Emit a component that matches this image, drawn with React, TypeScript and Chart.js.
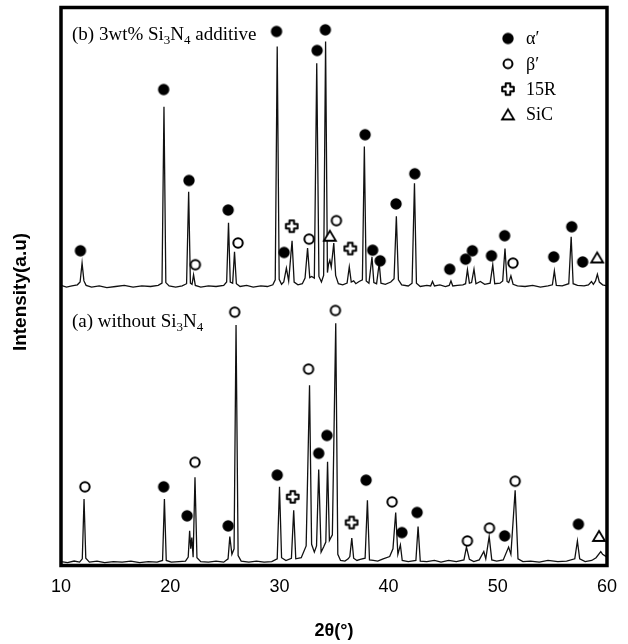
import React, { useEffect, useRef } from "react";
import { Chart, registerables } from "chart.js";

Chart.register(...registerables);

// ---------- data ----------
const X_TICKS = [10, 20, 30, 40, 50, 60];

// (b) 3wt% Si3N4 additive  (offset trace)
const TRACE_B_X = [
  10.0, 10.5, 11.0, 11.5, 11.75, 11.93, 12.1, 12.3, 12.8, 13.5, 14.2, 15.0, 15.8, 16.6, 17.4, 18.2, 18.9,
  19.25, 19.43, 19.6, 19.9, 20.5, 21.1, 21.5, 21.69, 21.85, 22.0, 22.14, 22.3, 22.8, 23.5, 24.2, 24.9,
  25.17, 25.34, 25.5, 25.72, 25.89, 26.06, 26.4, 27.0, 27.6, 28.3, 28.9, 29.4, 29.62, 29.8, 29.98, 30.2,
  30.4, 30.64, 30.85, 31.16, 31.35, 31.7, 32.1, 32.35, 32.58, 32.78, 32.95, 33.2, 33.42, 33.62, 33.85,
  34.05, 34.23, 34.4, 34.5, 34.62, 34.75, 34.98, 35.15, 35.4, 35.8, 36.2, 36.4, 36.58, 36.8, 37.0, 37.3,
  37.6, 37.78, 37.95, 38.2, 38.48, 38.65, 38.9, 39.14, 39.3, 39.7, 40.2, 40.5, 40.71, 40.9, 41.2, 41.8,
  42.15, 42.37, 42.55, 42.9, 43.5, 43.85, 44.02, 44.2, 44.7, 45.2, 45.55, 45.71, 45.88, 46.3, 46.8, 47.05,
  47.22, 47.4, 47.6, 47.82, 48.0, 48.4, 48.8, 49.3, 49.54, 49.72, 50.2, 50.45, 50.66, 50.85, 51.0, 51.2,
  51.4, 51.8, 52.5, 53.2, 53.9, 54.6, 55.0, 55.18, 55.36, 55.9, 56.5, 56.72, 56.9, 57.3, 57.9, 58.3,
  58.58, 58.75, 58.95, 59.12, 59.3, 59.6, 60.0,
];
const TRACE_B_Y = [
  50.2, 49.9, 50.1, 50.3, 50.8, 54.2, 51.0, 50.2, 49.9, 50.1, 49.8, 50.0, 50.2, 49.9, 50.1, 50.0, 50.2,
  50.6, 82.2, 50.7, 50.1, 49.9, 50.1, 50.5, 67.0, 50.6, 50.4, 52.1, 50.2, 49.9, 50.1, 50.0, 50.2,
  50.8, 61.4, 50.8, 50.6, 56.2, 50.5, 50.0, 50.2, 49.9, 50.1, 50.0, 50.3, 51.2, 93.0, 51.3, 50.4,
  50.8, 53.3, 51.0, 58.2, 50.8, 50.3, 50.5, 51.5, 56.9, 51.6, 51.8, 51.5, 90.0, 51.8, 50.8,
  52.0, 93.9, 52.5, 54.0, 54.7, 53.5, 57.8, 52.0, 50.5, 50.3, 50.6, 53.5, 50.8, 51.0, 50.5, 50.9,
  51.2, 75.1, 51.0, 50.6, 55.3, 50.7, 50.5, 54.2, 50.6, 50.4, 50.8, 51.4, 62.6, 51.2, 50.3, 50.1,
  50.6, 68.5, 50.6, 50.0, 50.2, 50.1, 50.9, 50.1, 50.3, 50.0, 50.2, 51.0, 50.1, 50.2, 50.3, 50.5,
  53.0, 50.6, 50.7, 53.1, 50.5, 50.9, 50.4, 50.6, 53.9, 50.5, 50.6, 51.0, 56.8, 50.9, 50.7, 51.9,
  50.4, 50.1, 50.0, 50.2, 49.9, 50.1, 50.3, 52.8, 50.2, 50.1, 50.5, 58.9, 50.5, 50.2, 50.1, 50.3,
  50.9, 50.4, 51.0, 52.2, 50.8, 50.3, 50.1,
];

// (a) without Si3N4
const TRACE_A_X = [
  10.0, 10.6, 11.2, 11.7, 11.95, 12.11, 12.27, 12.6, 13.3, 14.0, 14.8, 15.6, 16.4, 17.2, 18.0, 18.8, 19.3,
  19.47, 19.64, 20.1, 20.8, 21.4, 21.65, 21.78, 21.88, 21.98, 22.1, 22.27, 22.45, 22.8, 23.5, 24.2, 24.9,
  25.3, 25.46, 25.65, 25.85, 26.03, 26.22, 26.5, 27.2, 27.9, 28.6, 29.3, 29.8, 30.01, 30.2, 30.6, 31.1,
  31.31, 31.5, 32.0, 32.45, 32.76, 32.95, 33.2, 33.4, 33.6, 33.82, 34.05, 34.25, 34.41, 34.58, 34.85,
  35.16, 35.35, 35.6, 36.0, 36.3, 36.45, 36.63, 36.8, 37.1, 37.4, 37.85, 38.06, 38.25, 38.6, 39.0, 39.5,
  40.1, 40.4, 40.65, 40.85, 41.08, 41.25, 41.8, 42.5, 42.7, 42.9, 43.5, 44.2, 44.8, 45.5, 46.2, 46.9,
  47.13, 47.4, 47.8, 48.3, 48.72, 48.9, 49.21, 49.45, 49.9, 50.5, 50.99, 51.2, 51.59, 51.85, 52.3, 53.0,
  53.8, 54.6, 55.5, 56.3, 57.05, 57.29, 57.5, 58.0, 58.6, 59.0, 59.43, 59.6, 60.0,
];
const TRACE_A_Y = [
  0.7, 0.5, 0.8, 0.6, 1.2, 11.9, 1.3, 0.6, 0.8, 0.5, 0.7, 0.6, 0.8, 0.5, 0.7, 0.6, 0.9,
  11.9, 0.9, 0.6, 0.7, 0.8, 1.5, 6.2, 3.0, 5.0, 1.5, 15.8, 1.4, 0.7, 0.6, 0.8, 0.6,
  1.2, 5.2, 2.0, 3.0, 43.1, 1.8, 0.8, 0.6, 0.8, 0.6, 0.7, 1.2, 14.1, 1.4, 0.9, 1.3,
  9.9, 1.2, 1.4, 3.5, 32.3, 3.8, 2.4, 3.5, 17.2, 2.4, 3.3, 4.2, 18.6, 4.5, 5.5,
  43.4, 2.0, 0.9, 0.8, 1.2, 1.6, 4.9, 1.3, 0.9, 1.1, 1.3, 11.7, 1.0, 0.9, 0.8, 1.2,
  1.6, 3.0, 9.5, 2.0, 3.7, 0.9, 0.7, 0.9, 7.0, 0.8, 0.7, 0.9, 0.6, 0.9, 0.7, 1.0,
  3.3, 1.1, 0.7, 1.0, 2.5, 1.2, 5.2, 1.0, 0.8, 1.0, 3.3, 2.0, 13.5, 1.2, 0.7, 0.8,
  0.6, 0.9, 0.7, 0.8, 1.2, 4.4, 1.2, 0.7, 0.9, 1.4, 2.5, 2.0, 1.5,
];

// phase markers (both traces)
const ALPHA_X = [11.78, 19.4, 21.72, 25.31, 29.74, 30.43, 33.45, 34.21, 37.85, 38.54, 39.23, 40.68, 42.4, 45.6, 47.05, 47.67, 49.42, 50.63, 55.12, 56.77, 57.77,
  19.4, 21.55, 25.31, 29.8, 33.6, 34.35, 37.94, 41.22, 42.61, 50.63, 57.38];
const ALPHA_Y = [56.4, 85.3, 69.0, 63.7, 95.7, 56.1, 92.3, 96.0, 77.2, 56.5, 54.6, 64.8, 70.2, 53.1, 54.9, 56.4, 55.5, 59.1, 55.3, 60.7, 54.4,
  14.1, 8.9, 7.1, 16.2, 20.1, 23.3, 15.3, 5.9, 9.5, 5.3, 7.4];
const BETA_X = [22.3, 26.21, 32.72, 35.22, 51.39,
  12.19, 22.27, 25.91, 32.67, 35.13, 40.32, 47.22, 49.24, 51.59];
const BETA_Y = [53.9, 57.8, 58.5, 61.8, 54.2,
  14.1, 18.5, 45.4, 35.2, 45.7, 11.4, 4.4, 6.7, 15.1];
const R15_X = [31.13, 36.49, 31.22, 36.61];
const R15_Y = [60.8, 56.8, 12.3, 7.7];
const SIC_X = [34.62, 59.1, 59.27];
const SIC_Y = [59.1, 55.2, 5.3];

const LEGEND_LABELS = ["α′", "β′", "15R", "SiC"];

// ---------- marker glyphs ----------
type Kind = "alpha" | "beta" | "r15" | "sic";

function makeMarker(kind: Kind, scale = 1): HTMLCanvasElement {
  const size = 18;
  const c = document.createElement("canvas");
  c.width = size;
  c.height = size;
  const g = c.getContext("2d")!;
  const m = size / 2;
  g.strokeStyle = "#000";
  g.fillStyle = "#000";
  if (kind === "alpha") {
    g.beginPath();
    g.arc(m, m, 5.7 * scale, 0, Math.PI * 2);
    g.fill();
  } else if (kind === "beta") {
    g.beginPath();
    g.arc(m, m, 4.7 * scale, 0, Math.PI * 2);
    g.fillStyle = "#fff";
    g.fill();
    g.lineWidth = 2;
    g.stroke();
  } else if (kind === "r15") {
    const a = 2.3 * scale;
    const L = 5.8 * scale;
    const pts = [
      [m - a, m - L], [m + a, m - L], [m + a, m - a], [m + L, m - a], [m + L, m + a], [m + a, m + a],
      [m + a, m + L], [m - a, m + L], [m - a, m + a], [m - L, m + a], [m - L, m - a], [m - a, m - a],
    ];
    g.beginPath();
    pts.forEach(([px, py], i) => (i === 0 ? g.moveTo(px, py) : g.lineTo(px, py)));
    g.closePath();
    g.fillStyle = "#fff";
    g.fill();
    g.lineWidth = 2;
    g.lineJoin = "round";
    g.stroke();
  } else {
    const w = 6 * scale;
    const h = 5 * scale;
    g.beginPath();
    g.moveTo(m, m - h);
    g.lineTo(m + w, m + h);
    g.lineTo(m - w, m + h);
    g.closePath();
    g.fillStyle = "#fff";
    g.fill();
    g.lineWidth = 1.8;
    g.stroke();
  }
  return c;
}

const SERIF = "'Liberation Serif', 'Times New Roman', serif";
const SANS = "'Liberation Sans', Arial, sans-serif";

function drawRich(ctx: CanvasRenderingContext2D, x: number, y: number, parts: [string, boolean][]) {
  let cx = x;
  for (const [t, sub] of parts) {
    ctx.font = sub ? `13px ${SERIF}` : `19px ${SERIF}`;
    ctx.fillText(t, cx, sub ? y + 4 : y);
    cx += ctx.measureText(t).width;
  }
}

const framePlugin = {
  id: "frameAndText",
  afterDraw(chart: any) {
    const { ctx, chartArea } = chart;
    const { left, right, top, bottom } = chartArea;
    ctx.save();
    ctx.strokeStyle = "#000";
    ctx.lineWidth = 3.5;
    ctx.strokeRect(left, top, right - left, bottom - top);

    ctx.fillStyle = "#000";
    ctx.textBaseline = "alphabetic";
    ctx.textAlign = "left";
    drawRich(ctx, left + 11, top + 32, [["(b) 3wt% Si", false], ["3", true], ["N", false], ["4", true], [" additive", false]]);
    drawRich(ctx, left + 11, top + 319, [["(a) without Si", false], ["3", true], ["N", false], ["4", true]]);

    // legend
    const kinds: Kind[] = ["alpha", "beta", "r15", "sic"];
    const lx = right - 99;
    kinds.forEach((k, i) => {
      const ly = top + 31 + i * 25.3;
      const img = makeMarker(k, k === "beta" ? 0.95 : 1);
      ctx.drawImage(img, lx - 9, ly - 9);
      ctx.font = `18px ${SERIF}`;
      ctx.textBaseline = "middle";
      ctx.fillText(LEGEND_LABELS[i], lx + 18, ly + 1);
    });

    // y axis title
    ctx.save();
    ctx.translate(21, 292);
    ctx.rotate(-Math.PI / 2);
    ctx.textAlign = "center";
    ctx.textBaseline = "middle";
    ctx.font = `bold 19px ${SANS}`;
    ctx.fillText("Intensity(a.u)", 0, 0);
    ctx.restore();
    ctx.restore();
  },
};

function toPoints(xs: number[], ys: number[]) {
  return xs.map((x, i) => ({ x, y: ys[i] }));
}

export default function App() {
  const ref = useRef<HTMLCanvasElement | null>(null);

  useEffect(() => {
    if (!ref.current) return;
    const markerDs = (xs: number[], ys: number[], kind: Kind, label: string) => ({
      label,
      data: toPoints(xs, ys),
      showLine: false,
      pointStyle: makeMarker(kind),
      pointRadius: 6,
      pointHoverRadius: 6,
      order: 0,
    });
    const lineDs = (xs: number[], ys: number[], label: string) => ({
      label,
      data: toPoints(xs, ys),
      showLine: true,
      borderColor: "#111",
      borderWidth: 1.3,
      pointRadius: 0,
      tension: 0,
      order: 1,
    });
    const chart = new Chart(ref.current, {
      type: "scatter",
      data: {
        datasets: [
          markerDs(ALPHA_X, ALPHA_Y, "alpha", "α′"),
          markerDs(BETA_X, BETA_Y, "beta", "β′"),
          markerDs(R15_X, R15_Y, "r15", "15R"),
          markerDs(SIC_X, SIC_Y, "sic", "SiC"),
          lineDs(TRACE_B_X, TRACE_B_Y, "(b)"),
          lineDs(TRACE_A_X, TRACE_A_Y, "(a)"),
        ] as any,
      },
      options: {
        animation: false,
        responsive: false,
        events: [],
        layout: { padding: { left: 61, right: 14, top: 7.5, bottom: 0 } },
        plugins: { legend: { display: false }, tooltip: { enabled: false } },
        scales: {
          x: {
            type: "linear",
            min: 10,
            max: 60,
            grid: { display: false, drawTicks: false },
            border: { display: false },
            afterBuildTicks: (s: any) => {
              s.ticks = X_TICKS.map((v) => ({ value: v }));
            },
            ticks: {
              autoSkip: false,
              color: "#000",
              padding: 11,
              font: { family: SANS, size: 18 },
            },
            title: {
              display: true,
              text: "2θ(°)",
              color: "#000",
              font: { family: SANS, size: 18, weight: "bold" },
              padding: { top: 0, bottom: 2 },
            },
            afterFit: (s: any) => {
              s.height = 78.5;
            },
          },
          y: { display: false, min: 0, max: 100 },
        },
      } as any,
      plugins: [framePlugin],
    });
    return () => chart.destroy();
  }, []);

  return (
    <div style={{ position: "absolute", left: 0, top: 0, width: 628, height: 644, background: "#fff" }}>
      <canvas ref={ref} width={628} height={644} style={{ display: "block" }} />
    </div>
  );
}
